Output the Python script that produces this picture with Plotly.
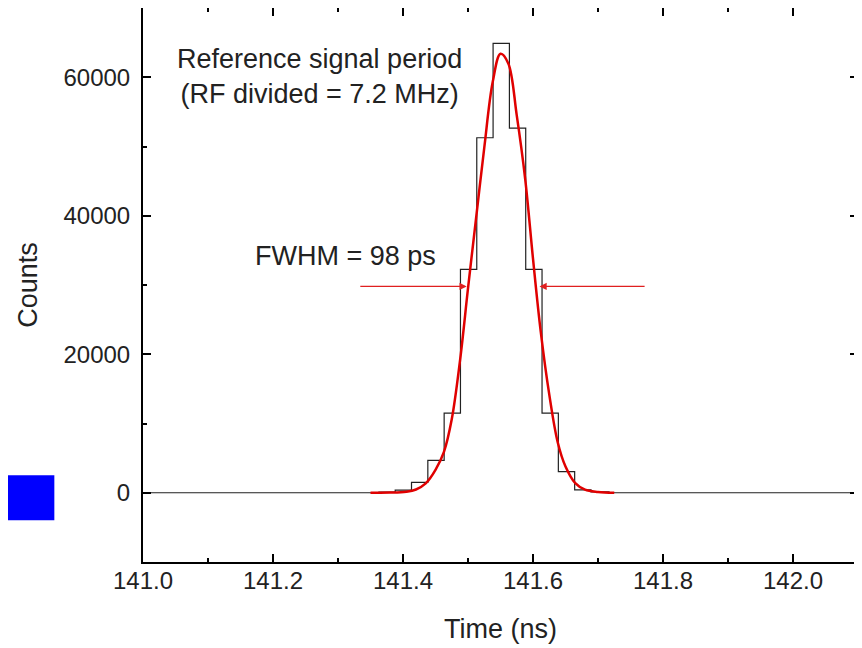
import plotly.graph_objects as go

# Histogram (bin edges in ns, counts)
bin_edges = [141.0, 141.363, 141.388, 141.4131, 141.4382, 141.4633, 141.4884, 141.5135,
             141.5386, 141.5637, 141.5888, 141.6139, 141.639, 141.6641, 141.6892, 141.717, 142.1]
bin_counts = [0, 100, 390, 1490, 4680, 11490, 32270, 51260, 64880, 52650, 32270,
              11490, 3040, 420, 120, 0, 0]

# Gaussian fit curve
fit_t = [141.350, 141.380, 141.405, 141.420, 141.435, 141.450, 141.463, 141.475, 141.488,
         141.500, 141.512, 141.525, 141.538, 141.550, 141.562, 141.575, 141.588, 141.600,
         141.612, 141.625, 141.638, 141.650, 141.665, 141.680, 141.700, 141.725]
fit_counts = [0, 20, 150, 470, 1350, 3300, 5900, 10600, 19300, 29500, 39300, 49800, 59300,
              63400, 62000, 54500, 45300, 33800, 23200, 14200, 7300, 3800, 1400, 450, 120, 0]

# FWHM arrows: (tail x, tip x, y)
arrow_left = (141.332, 141.498, 29800)
arrow_right = (141.774, 141.610, 29800)

x_ticks = [141.0, 141.2, 141.4, 141.6, 141.8, 142.0]
y_ticks = [0, 20000, 40000, 60000]

FONT = "Liberation Sans, Arial, sans-serif"

fig = go.Figure()
fig.add_trace(go.Scatter(x=bin_edges, y=bin_counts, mode="lines", line_shape="hv",
                         line=dict(color="#222222", width=1.2), showlegend=False))
fig.add_trace(go.Scatter(x=fit_t, y=fit_counts, mode="lines", line_shape="spline",
                         line=dict(color="#e00000", width=2.5), showlegend=False))

for tail, tip, yv in (arrow_left, arrow_right):
    fig.add_annotation(x=tip, y=yv, ax=tail, ay=yv, xref="x", yref="y", axref="x", ayref="y",
                       text="", showarrow=True, arrowhead=2, arrowsize=1.2, arrowwidth=1.2,
                       arrowcolor="#e02020")

fig.add_annotation(x=141.271, y=60100, xref="x", yref="y",
                   text="Reference signal period<br>(RF divided = 7.2 MHz)",
                   showarrow=False, font=dict(family=FONT, size=27, color="#222"), align="center")
fig.add_annotation(x=141.312, y=34200, xref="x", yref="y", text="FWHM = 98 ps",
                   showarrow=False, font=dict(family=FONT, size=27, color="#222"), align="center")

fig.add_shape(type="rect", xref="paper", yref="paper", x0=-0.1995, x1=-0.124, y0=0.0753, y1=0.1566,
              fillcolor="#0000ff", line=dict(width=0))

axis_common = dict(showline=True, linecolor="black", linewidth=2, mirror="allticks",
                   ticks="inside", ticklen=8, tickwidth=1.5, tickcolor="black",
                   showgrid=False, zeroline=False, automargin=False,
                   tickfont=dict(family=FONT, size=24, color="#222"))
fig.update_xaxes(range=[141.0, 142.1], tickvals=x_ticks, ticktext=[f"{v:.1f}" for v in x_ticks],
                 minor=dict(ticks="inside", ticklen=4, tickwidth=1.5, tickcolor="black", dtick=0.1, tick0=141.0),
                 title=dict(text="Time (ns)", font=dict(family=FONT, size=27, color="#222"), standoff=26),
                 ticklabelstandoff=-4, **axis_common)
fig.update_yaxes(range=[-10000, 70000], tickvals=y_ticks, ticktext=[str(v) for v in y_ticks],
                 minor=dict(ticks="inside", ticklen=4, tickwidth=1.5, tickcolor="black", dtick=10000, tick0=0),
                 title=dict(text="Counts", font=dict(family=FONT, size=27, color="#222"), standoff=18),
                 ticklabelstandoff=6, **axis_common)

# page body has an 8px margin, so the figure is sized to fit the 862x648 window
fig.update_layout(width=854, height=640, margin=dict(l=135, r=4, t=0, b=86),
                  plot_bgcolor="white", paper_bgcolor="white")

fig.write_html("out.html")
